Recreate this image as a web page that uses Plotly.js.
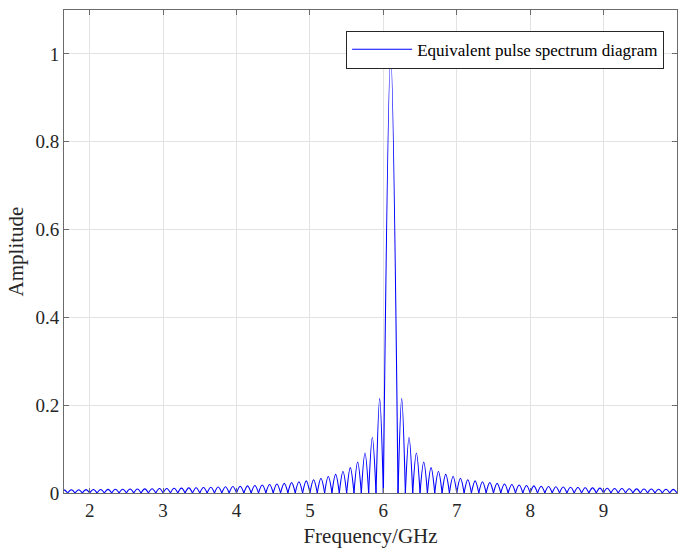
<!DOCTYPE html>
<html>
<head>
<meta charset="utf-8">
<script src="https://cdn.plot.ly/plotly-3.0.1.min.js"></script>
<style>html,body{margin:0;padding:0;background:#fff;}#chart{width:684px;height:559px;}</style>
</head>
<body>
<div id="chart"></div>
<script>
// Zero crossings of the spectrum (GHz)
const zeroFreqs = [
  1.6,1.7,1.8,1.9,2.0,2.1,2.2,2.3,2.4,2.5,2.6,2.7,2.8,2.9,3.0,3.1,3.2,3.3,3.4,3.5,
  3.6,3.7,3.8,3.9,4.0,4.1,4.2,4.3,4.4,4.5,4.6,4.7,4.8,4.9,5.0,5.1,5.2,5.3,5.4,5.5,
  5.6,5.7,5.8,5.9,6.0,
  6.2,6.3,6.4,6.5,6.6,6.7,6.8,6.9,7.0,7.1,7.2,7.3,7.4,7.5,7.6,7.7,7.8,7.9,8.0,8.1,
  8.2,8.3,8.4,8.5,8.6,8.7,8.8,8.9,9.0,9.1,9.2,9.3,9.4,9.5,9.6,9.7,9.8,9.9,10.0
];
// Peak amplitude of each lobe between consecutive zeros
const lobePeaks = [
  0.0072,0.0073,0.0075,0.0077,0.0079,0.0081,0.0083,0.0085,0.0087,0.0090,0.0092,0.0095,
  0.0098,0.0101,0.0104,0.0108,0.0112,0.0116,0.0120,0.0125,0.0130,0.0135,0.0141,0.0148,
  0.0155,0.0163,0.0172,0.0182,0.0193,0.0205,0.0220,0.0236,0.0255,0.0277,0.0303,0.0335,
  0.0375,0.0424,0.0490,0.0579,0.0707,0.091,0.127,0.215,
  1.0,
  0.215,0.127,0.091,0.0707,0.0579,0.0490,0.0424,0.0375,0.0335,0.0303,0.0277,0.0255,
  0.0236,0.0220,0.0205,0.0193,0.0182,0.0172,0.0163,0.0155,0.0148,0.0141,0.0135,0.0130,
  0.0125,0.0120,0.0116,0.0112,0.0108,0.0104,0.0101,0.0098,0.0095,0.0092,0.0090,0.0087,
  0.0085,0.0083
];
const xTicks = [2,3,4,5,6,7,8,9];
const yTicks = [0,0.2,0.4,0.6,0.8,1];
const yTickText = ['0','0.2','0.4','0.6','0.8','1'];
const seriesName = 'Equivalent pulse spectrum diagram';

const xs = [], ys = [];
for (let i = 0; i < lobePeaks.length; i++) {
  const a = zeroFreqs[i], b = zeroFreqs[i+1];
  xs.push(a, (a+b)/2, b, null);
  ys.push(0, lobePeaks[i], 0, null);
}

const font = 'Liberation Serif, Times New Roman, serif';
const axisCol = '#262626';
const trace = {
  x: xs, y: ys, type: 'scatter', mode: 'lines', name: seriesName,
  connectgaps: false,
  line: {color: '#0000ff', width: 1.1, shape: 'spline', smoothing: 1},
  showlegend: true
};
const layout = {
  width: 684, height: 559,
  margin: {l: 64, r: 7, t: 10, b: 66},
  paper_bgcolor: '#fff', plot_bgcolor: '#fff',
  font: {family: font, color: axisCol, size: 18},
  showlegend: true,
  legend: {
    x: 0.979, y: 0.957, xanchor: 'right', yanchor: 'top',
    bgcolor: '#fff', bordercolor: '#262626', borderwidth: 1,
    font: {family: font, size: 17, color: '#000'},
    itemwidth: 60, tracegroupgap: 0
  },
  xaxis: {
    range: [1.65, 10.0], tickvals: xTicks, ticktext: xTicks.map(String),
    showgrid: true, gridcolor: '#e3e3e3', gridwidth: 1,
    showline: true, linecolor: '#6b6b6b', linewidth: 1, mirror: 'ticks',
    ticks: 'inside', ticklen: 5, tickcolor: '#6b6b6b',
    zeroline: false,
    tickfont: {family: font, size: 19, color: axisCol},
    title: {text: 'Frequency/GHz', font: {family: font, size: 21, color: axisCol}, standoff: 8}
  },
  yaxis: {
    range: [0, 1.1], tickvals: yTicks, ticktext: yTickText,
    showgrid: true, gridcolor: '#e3e3e3', gridwidth: 1,
    showline: true, linecolor: '#6b6b6b', linewidth: 1, mirror: 'ticks',
    ticks: 'inside', ticklen: 5, tickcolor: '#6b6b6b',
    zeroline: false,
    tickfont: {family: font, size: 19, color: axisCol},
    title: {text: 'Amplitude', font: {family: font, size: 21, color: axisCol}, standoff: 6}
  }
};
Plotly.newPlot('chart', [trace], layout, {displayModeBar: false, staticPlot: true});
</script>
</body>
</html>
